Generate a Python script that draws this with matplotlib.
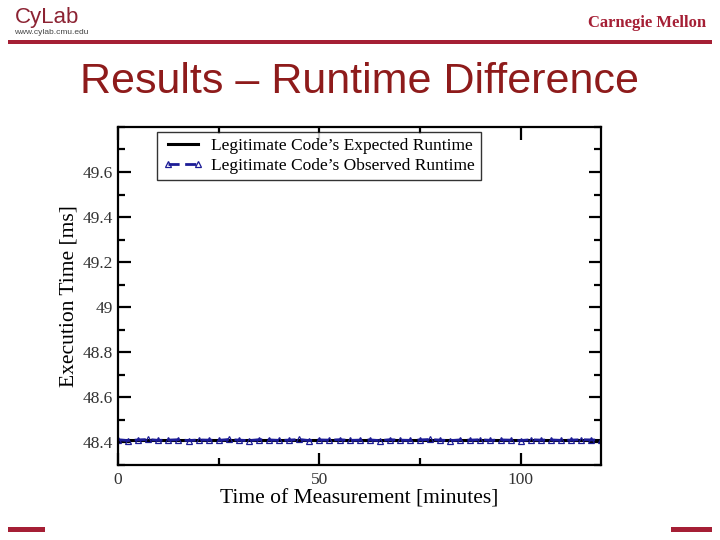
import numpy as np
import matplotlib.pyplot as plt
from matplotlib.ticker import MultipleLocator

# Measurements every 2.5 minutes over two hours
minutes = np.arange(0, 120.1, 2.5)
expected_ms = [48.41] * len(minutes)
observed_ms = [48.412, 48.408, 48.411, 48.413, 48.409, 48.410, 48.412, 48.408,
               48.411, 48.410, 48.409, 48.413, 48.410, 48.408, 48.412, 48.411,
               48.409, 48.410, 48.413, 48.408, 48.411, 48.410, 48.412, 48.409,
               48.410, 48.411, 48.408, 48.412, 48.410, 48.409, 48.411, 48.413,
               48.410, 48.408, 48.411, 48.410, 48.412, 48.409, 48.411, 48.410,
               48.408, 48.412, 48.410, 48.411, 48.409, 48.410, 48.412, 48.411,
               48.410]

red = '#a51f35'
title_red = '#8e1b1b'

fig = plt.figure(figsize=(7.2, 5.4), dpi=100)
fig.patch.set_facecolor('white')

# slide header / footer decoration
fig.text(0.020, 0.967, 'CyLab', fontsize=16, color='#8c2333', family='Liberation Sans', va='center')
fig.text(0.020, 0.940, 'www.cylab.cmu.edu', fontsize=6, color='#444444', family='Liberation Sans', va='center')
fig.text(0.981, 0.958, 'Carnegie Mellon', fontsize=12, color=red, family='Liberation Serif',
         weight='bold', ha='right', va='center')
fig.add_artist(plt.Rectangle((0.011, 0.918), 0.978, 0.008, transform=fig.transFigure,
                             color=red, lw=0))
fig.add_artist(plt.Rectangle((0.011, 0.015), 0.052, 0.009, transform=fig.transFigure,
                             color=red, lw=0))
fig.add_artist(plt.Rectangle((0.932, 0.015), 0.057, 0.009, transform=fig.transFigure,
                             color=red, lw=0))
fig.text(0.5, 0.848, 'Results \u2013 Runtime Difference', fontsize=31, color=title_red,
         family='Liberation Sans', ha='center', va='center')

ax = fig.add_axes([0.164, 0.139, 0.671, 0.626])
ax.plot(minutes, expected_ms, color='black', lw=2.2, label='Legitimate Code\u2019s Expected Runtime')
ax.plot(minutes, observed_ms, color='#1c1c96', lw=2.0, ls=(0, (4, 2)), marker='^',
        markersize=4.5, markerfacecolor='none', markeredgewidth=0.9,
        label='Legitimate Code\u2019s Observed Runtime')

ax.set_xlim(0, 120)
ax.set_ylim(48.3, 49.8)
ax.xaxis.set_major_locator(MultipleLocator(50))
ax.xaxis.set_minor_locator(MultipleLocator(25))
ax.yaxis.set_minor_locator(MultipleLocator(0.1))
ax.set_yticks(np.arange(48.4, 49.61, 0.2))
ax.set_yticklabels(['48.4', '48.6', '48.8', '49', '49.2', '49.4', '49.6'])

for s in ax.spines.values():
    s.set_linewidth(1.6)
ax.tick_params(which='both', direction='in', top=True, right=True, width=1.6,
               labelsize=12.5, colors='black')
ax.tick_params(which='major', length=9)
ax.tick_params(which='minor', length=5)
ax.tick_params(axis='x', pad=5)
for lab in ax.get_xticklabels() + ax.get_yticklabels():
    lab.set_family('Liberation Serif')
    lab.set_color('#333333')

ax.set_xlabel('Time of Measurement [minutes]', fontsize=15.5, family='Liberation Serif', labelpad=1)
ax.set_ylabel('Execution Time [ms]', fontsize=15.5, family='Liberation Serif', labelpad=3)

leg = ax.legend(loc='upper left', bbox_to_anchor=(0.081, 0.985), numpoints=2,
                prop={'family': 'Liberation Serif', 'size': 12.5}, frameon=True,
                fancybox=False, handlelength=2.3, borderpad=0.35, labelspacing=0.2,
                handletextpad=0.45, borderaxespad=0)
leg.get_frame().set_edgecolor('black')
leg.get_frame().set_linewidth(1.0)

fig.savefig('out.png', dpi=100)
